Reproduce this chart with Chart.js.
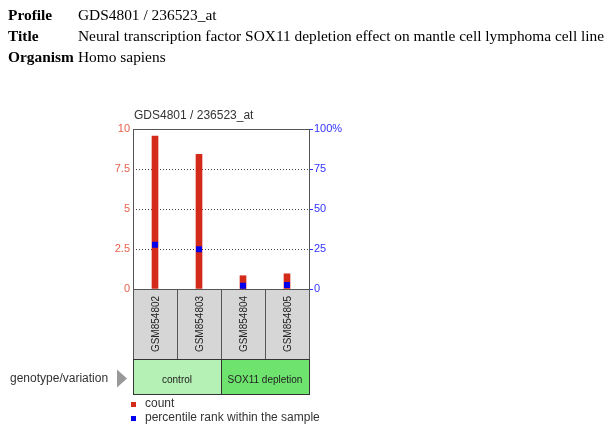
<!DOCTYPE html>
<html>
<head>
<meta charset="utf-8">
<script src="https://cdn.jsdelivr.net/npm/chart.js@4/dist/chart.umd.min.js"></script>
<style>
  body { margin: 0; background: #fff; }
  #wrap { position: relative; width: 616px; height: 444px; }
  #chart { position: absolute; left: 0; top: 0; }
  .hdr { position: absolute; left: 8px; font: 15.4px "Liberation Serif", "Times New Roman", serif; color: #000; white-space: nowrap; }
  .hdr b { display: inline-block; width: 70px; }
</style>
</head>
<body>
<div id="wrap">
  <canvas id="chart" width="616" height="444"></canvas>
  <div class="hdr" style="top:6px"><b>Profile</b>GDS4801 / 236523_at</div>
  <div class="hdr" style="top:27px"><b>Title</b>Neural transcription factor SOX11 depletion effect on mantle cell lymphoma cell line</div>
  <div class="hdr" style="top:48px"><b>Organism</b>Homo sapiens</div>
</div>
<script>
const chartTitle = "GDS4801 / 236523_at";
const samples = ["GSM854802", "GSM854803", "GSM854804", "GSM854805"];
const counts = [9.55, 8.42, 0.83, 0.95];
const percentiles = [27.7, 24.8, 2.0, 2.5];
const groupLabels = ["control", "SOX11 depletion"];
const groupStart = [0, 2];
const groupEnd = [1, 3];
const groupColors = ["#b5f0b5", "#6ee46e"];
const leftTicks = [0, 2.5, 5, 7.5, 10];
const rightTicks = [0, 25, 50, 75, 100];

const FONT = '"Liberation Sans", Arial, sans-serif';
const RED = "#d42a1a";
const BLUE = "#0000ee";

// sample boxes, group boxes, title, legend
const extras = {
  id: "extras",
  afterDraw(chart) {
    const { ctx, chartArea: a, scales } = chart;
    const x = scales.x;
    const half = (x.getPixelForValue(1) - x.getPixelForValue(0)) / 2;
    const boxTop = a.bottom, boxBot = a.bottom + 70, grpBot = boxBot + 35;
    const grpMid = (boxBot + grpBot) / 2;
    ctx.save();

    ctx.fillStyle = "#333";
    ctx.font = "12px " + FONT;
    ctx.textBaseline = "middle";
    ctx.fillText(chartTitle, a.left + 1, a.top - 13);

    samples.forEach((s, i) => {
      const cx = x.getPixelForValue(i);
      ctx.fillStyle = "#d6d6d6";
      ctx.fillRect(cx - half, boxTop, half * 2, boxBot - boxTop);
      ctx.strokeStyle = "#555";
      ctx.lineWidth = 1;
      ctx.strokeRect(cx - half + 0.5, boxTop + 0.5, half * 2, boxBot - boxTop);
      ctx.save();
      ctx.translate(cx + 1, (boxTop + boxBot) / 2);
      ctx.rotate(-Math.PI / 2);
      ctx.fillStyle = "#222";
      ctx.font = "10px " + FONT;
      ctx.textAlign = "center";
      ctx.textBaseline = "middle";
      ctx.fillText(s, 0, 0);
      ctx.restore();
    });

    groupLabels.forEach((g, i) => {
      const l = x.getPixelForValue(groupStart[i]) - half;
      const r = x.getPixelForValue(groupEnd[i]) + half;
      ctx.fillStyle = groupColors[i];
      ctx.fillRect(l, boxBot, r - l, grpBot - boxBot);
      ctx.strokeStyle = "#333";
      ctx.strokeRect(l + 0.5, boxBot + 0.5, r - l, grpBot - boxBot);
      ctx.fillStyle = "#222";
      ctx.font = "10px " + FONT;
      ctx.textAlign = "center";
      ctx.textBaseline = "middle";
      ctx.fillText(g, (l + r) / 2, grpMid + 4);
    });

    ctx.fillStyle = "#333";
    ctx.font = "12px " + FONT;
    ctx.textAlign = "left";
    ctx.fillText("genotype/variation", 10, grpMid + 2);
    ctx.fillStyle = "#999";
    ctx.beginPath();
    ctx.moveTo(117, grpMid - 7);
    ctx.lineTo(127, grpMid + 2);
    ctx.lineTo(117, grpMid + 11);
    ctx.closePath();
    ctx.fill();

    const legend = [[RED, "count"], [BLUE, "percentile rank within the sample"]];
    legend.forEach(([c, t], i) => {
      const y = grpBot + 10 + i * 14;
      ctx.fillStyle = c;
      ctx.fillRect(a.left - 2, y - 2, 5, 5);
      ctx.fillStyle = "#333";
      ctx.font = "12px " + FONT;
      ctx.fillText(t, a.left + 12, y);
    });

    // plot frame
    ctx.strokeStyle = "#555";
    ctx.strokeRect(a.left + 0.5, a.top + 0.5, a.right - a.left, a.bottom - a.top);
    ctx.restore();
  },
};

new Chart(document.getElementById("chart"), {
  type: "bar",
  data: {
    labels: samples,
    datasets: [
      {
        label: "count",
        data: counts,
        backgroundColor: RED,
        barThickness: 6,
        yAxisID: "y",
        order: 2,
      },
      {
        type: "line",
        label: "percentile rank within the sample",
        data: percentiles,
        yAxisID: "y2",
        showLine: false,
        pointStyle: "rect",
        pointRadius: 4.2,
        pointBackgroundColor: BLUE,
        pointBorderWidth: 0,
        order: 1,
      },
    ],
  },
  plugins: [extras],
  options: {
    responsive: false,
    animation: false,
    layout: { padding: { top: 129, left: 0, right: 0, bottom: 0 } },
    plugins: { legend: { display: false }, tooltip: { enabled: false } },
    scales: {
      x: {
        offset: true,
        grid: { display: false, drawTicks: false },
        border: { display: false },
        ticks: { display: false },
        afterFit: (s) => { s.height = 444 - 289; },
      },
      y: {
        position: "left",
        min: 0,
        max: 10,
        afterBuildTicks: (s) => { s.ticks = leftTicks.map(v => ({ value: v })); },
        afterFit: (s) => { s.width = 133; },
        border: { display: false, dash: [1, 2] },
        grid: {
          drawTicks: false,
          color: (c) => (c.tick.value > 0 && c.tick.value < 10 ? "#444" : "transparent"),
          lineWidth: 1,
        },
        ticks: {
          color: "#e8604c",
          font: { family: FONT, size: 11 },
          padding: 3,
          callback: (v) => String(v),
        },
      },
      y2: {
        position: "right",
        min: 0,
        max: 100,
        afterBuildTicks: (s) => { s.ticks = rightTicks.map(v => ({ value: v })); },
        afterFit: (s) => { s.width = 616 - 309; },
        border: { display: false },
        grid: { drawOnChartArea: false, color: "#3333ff", tickLength: 4 },
        ticks: {
          color: "#3333ff",
          font: { family: FONT, size: 11 },
          padding: 1,
          callback: (v) => (v === 100 ? "100%" : String(v)),
        },
      },
    },
  },
});
</script>
</body>
</html>
